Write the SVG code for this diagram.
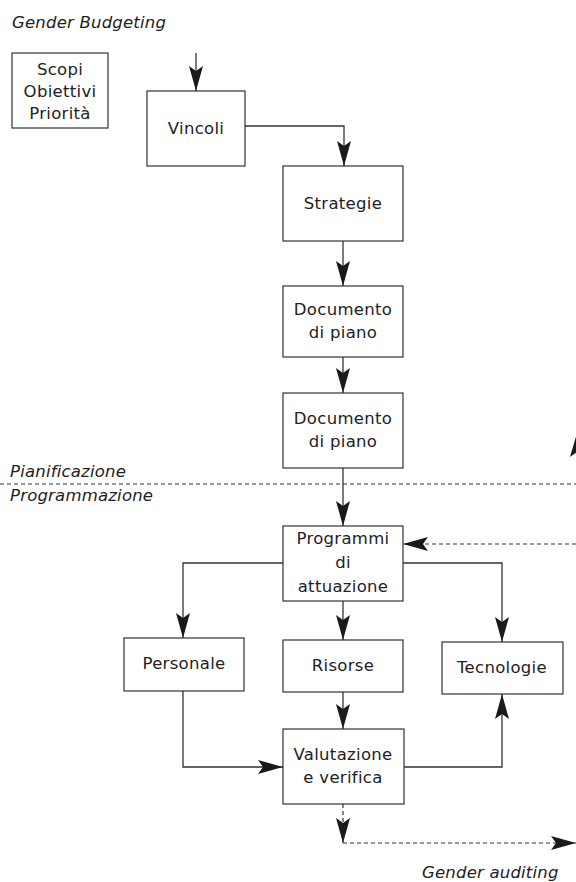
<svg xmlns="http://www.w3.org/2000/svg" width="576" height="882" viewBox="0 0 576 882">
<style>
  .box{fill:#fff;stroke:#333;stroke-width:1.2}
  .t{font-family:"DejaVu Sans","Liberation Sans",sans-serif;font-size:16.5px;fill:#222;text-anchor:middle;letter-spacing:0.3px}
  .it{font-family:"DejaVu Sans","Liberation Sans",sans-serif;font-size:16.5px;font-style:italic;fill:#222;letter-spacing:0.2px}
  .c{fill:none;stroke:#333;stroke-width:1.3}
  .d{fill:none;stroke:#333;stroke-width:1.2;stroke-dasharray:4 3}
</style>
<defs>
  <marker id="ah" viewBox="-27 -9 29 18" refX="0" refY="0" markerWidth="29" markerHeight="18" markerUnits="userSpaceOnUse" orient="auto">
    <path d="M0,0 L-25,-7 L-20,0 L-25,7 Z" fill="#1a1a1a"/>
  </marker>
</defs>
<rect width="576" height="882" fill="#fff"/>
<text class="it" x="12" y="28">Gender Budgeting</text>
<g id="divider">
  <path class="d" d="M0,484 H576"/>
  <text class="it" x="10" y="477">Pianificazione</text>
  <text class="it" x="10" y="501">Programmazione</text>
</g>
<g id="scopi">
  <rect class="box" x="12" y="53" width="96" height="75"/>
  <text class="t" x="60" y="75">Scopi</text>
  <text class="t" x="60" y="97">Obiettivi</text>
  <text class="t" x="60" y="119">Priorità</text>
</g>
<g id="vincoli">
  <rect class="box" x="147" y="91" width="98" height="75"/>
  <text class="t" x="196" y="134">Vincoli</text>
</g>
<g id="strategie">
  <rect class="box" x="283" y="166" width="120" height="75"/>
  <text class="t" x="343" y="209">Strategie</text>
</g>
<g id="documento1">
  <rect class="box" x="283" y="286" width="120" height="71"/>
  <text class="t" x="343" y="315">Documento</text>
  <text class="t" x="343" y="338">di piano</text>
</g>
<g id="documento2">
  <rect class="box" x="283" y="393" width="120" height="75"/>
  <text class="t" x="343" y="424">Documento</text>
  <text class="t" x="343" y="447">di piano</text>
</g>
<g id="programmi">
  <rect class="box" x="283" y="526" width="120" height="75"/>
  <text class="t" x="343" y="544">Programmi</text>
  <text class="t" x="343" y="568">di</text>
  <text class="t" x="343" y="592">attuazione</text>
</g>
<g id="personale">
  <rect class="box" x="124" y="638" width="120" height="53"/>
  <text class="t" x="184" y="669">Personale</text>
</g>
<g id="risorse">
  <rect class="box" x="283" y="640" width="120" height="52"/>
  <text class="t" x="343" y="671">Risorse</text>
</g>
<g id="tecnologie">
  <rect class="box" x="442" y="642" width="121" height="52"/>
  <text class="t" x="502" y="673">Tecnologie</text>
</g>
<g id="valutazione">
  <rect class="box" x="283" y="729" width="121" height="75"/>
  <text class="t" x="343" y="760">Valutazione</text>
  <text class="t" x="343" y="783">e verifica</text>
</g>
<text class="it" x="422" y="878">Gender auditing</text>
<g id="connectors">
  <path class="c" d="M196,53 V91" marker-end="url(#ah)"/>
  <path class="c" d="M245,126 H344 V166" marker-end="url(#ah)"/>
  <path class="c" d="M343,241 V286" marker-end="url(#ah)"/>
  <path class="c" d="M343,357 V393" marker-end="url(#ah)"/>
  <path class="c" d="M343,468 V526" marker-end="url(#ah)"/>
  <path class="d" d="M576,544 H403" marker-end="url(#ah)"/>
  <path class="c" d="M283,563 H183 V638" marker-end="url(#ah)"/>
  <path class="c" d="M343,601 V640" marker-end="url(#ah)"/>
  <path class="c" d="M403,563 H502 V642" marker-end="url(#ah)"/>
  <path class="c" d="M183,691 V767 H283" marker-end="url(#ah)"/>
  <path class="c" d="M343,692 V729" marker-end="url(#ah)"/>
  <path class="c" d="M404,767 H502 V694" marker-end="url(#ah)"/>
  <path class="d" d="M343,804 V843" marker-end="url(#ah)"/>
  <path class="d" d="M343,843 H576" marker-end="url(#ah)"/>
  <path d="M577,433 L570,457 L577,452 Z" fill="#1a1a1a"/>
</g>
</svg>
